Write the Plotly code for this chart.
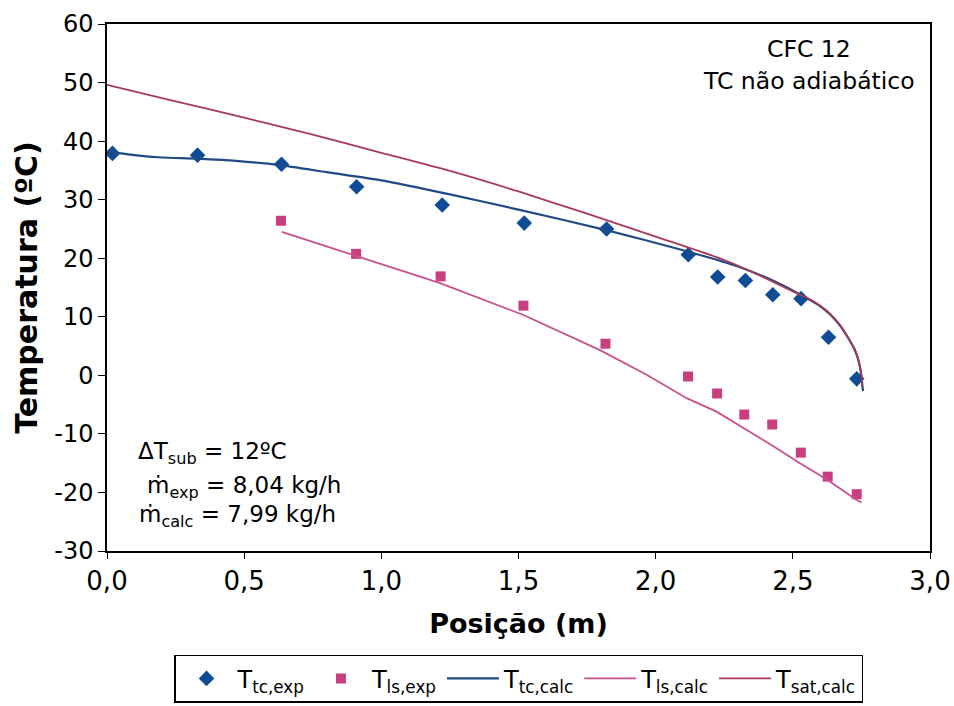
import plotly.graph_objects as go

# Experimental data
x_tc_exp = [0.02, 0.33, 0.636, 0.91, 1.222, 1.521, 1.821, 2.119, 2.226, 2.327, 2.427, 2.530, 2.630, 2.733]
y_tc_exp = [37.9, 37.6, 36.05, 32.2, 29.1, 26.0, 25.0, 20.6, 16.8, 16.2, 13.75, 13.1, 6.5, -0.6]

x_ls_exp = [0.634, 0.908, 1.216, 1.518, 1.817, 2.118, 2.224, 2.323, 2.425, 2.529, 2.627, 2.733]
y_ls_exp = [26.4, 20.75, 16.9, 11.9, 5.4, -0.2, -3.1, -6.7, -8.4, -13.2, -17.3, -20.3]

# Calculated curves
x_tc_calc = [0.0, 0.1, 0.2, 0.33, 0.5, 0.63, 0.8, 1.0, 1.25, 1.5, 1.82, 2.09, 2.3, 2.45, 2.55, 2.6, 2.636, 2.672, 2.70, 2.725, 2.74, 2.75, 2.754, 2.756]
y_tc_calc = [38.2, 37.6, 37.2, 37.0, 36.5, 35.9, 34.7, 33.3, 30.9, 28.3, 24.8, 21.5, 18.6, 15.7, 13.2, 11.8, 10.4, 8.5, 6.5, 4.4, 2.4, -0.1, -2.0, -2.7]

x_ls_calc = [0.637, 0.91, 1.214, 1.518, 1.797, 1.967, 2.113, 2.222, 2.332, 2.429, 2.526, 2.624, 2.733, 2.75]
y_ls_calc = [24.5, 20.3, 15.75, 10.3, 4.3, 0.1, -3.9, -6.2, -9.3, -12.1, -15.0, -17.8, -21.3, -21.7]

x_sat_calc = [0.0, 0.25, 0.5, 0.75, 1.0, 1.25, 1.5, 1.75, 2.0, 2.25, 2.4, 2.526, 2.55, 2.6, 2.636, 2.672, 2.70, 2.725, 2.74, 2.75, 2.753]
y_sat_calc = [49.6, 46.8, 44.0, 41.1, 38.0, 34.9, 31.4, 27.6, 23.7, 19.7, 16.6, 13.75, 13.3, 11.9, 10.5, 8.6, 6.6, 4.5, 2.5, 0.0, -1.9]

x_tickvals = [0.0, 0.5, 1.0, 1.5, 2.0, 2.5, 3.0]
x_ticktext = ["0,0", "0,5", "1,0", "1,5", "2,0", "2,5", "3,0"]
y_tickvals = [-30, -20, -10, 0, 10, 20, 30, 40, 50, 60]
y_ticktext = ["-30", "-20", "-10", "0", "10", "20", "30", "40", "50", "60"]

FONT = "DejaVu Sans"

fig = go.Figure()
fig.add_trace(go.Scatter(x=x_tc_exp, y=y_tc_exp, mode="markers", name="T<sub>tc,exp</sub>",
                         marker=dict(symbol="diamond", size=12, color="#0E4C96")))
fig.add_trace(go.Scatter(x=x_ls_exp, y=y_ls_exp, mode="markers", name="T<sub>ls,exp</sub>",
                         marker=dict(symbol="square", size=10, color="#C83E7E")))
fig.add_trace(go.Scatter(x=x_tc_calc, y=y_tc_calc, mode="lines", name="T<sub>tc,calc</sub>",
                         line=dict(color="#1F4A85", width=2.2, shape="spline", smoothing=0.6)))
fig.add_trace(go.Scatter(x=x_ls_calc, y=y_ls_calc, mode="lines", name="T<sub>ls,calc</sub>",
                         line=dict(color="#C9508E", width=1.8)))
fig.add_trace(go.Scatter(x=x_sat_calc, y=y_sat_calc, mode="lines", name="T<sub>sat,calc</sub>",
                         line=dict(color="#A83A55", width=1.8, shape="spline", smoothing=0.6)))

top_font = dict(family=FONT, size=23.5, color="black")
ann_font = dict(family=FONT, size=23, color="black")
annotations = [
    dict(x=2.56, y=55.8, text="CFC 12", showarrow=False, font=top_font, xanchor="center", yanchor="middle"),
    dict(x=2.56, y=50.3, text="TC não adiabático", showarrow=False, font=top_font, xanchor="center", yanchor="middle"),
    dict(x=0.105, y=-13.3, text="ΔT<sub>sub</sub> = 12ºC", showarrow=False, font=ann_font, xanchor="left", yanchor="middle"),
    dict(x=0.14, y=-19.0, text="ṁ<sub>exp</sub> = 8,04 kg/h", showarrow=False, font=ann_font, xanchor="left", yanchor="middle"),
    dict(x=0.11, y=-24.1, text="ṁ<sub>calc</sub> = 7,99 kg/h", showarrow=False, font=ann_font, xanchor="left", yanchor="middle"),
]

fig.update_layout(
    width=954, height=706,
    margin=dict(l=107, r=24, t=24, b=155, autoexpand=False),
    paper_bgcolor="white", plot_bgcolor="white",
    font=dict(family=FONT, color="black"),
    showlegend=True,
    legend=dict(orientation="h", x=0.5, xanchor="center", y=-0.197, yanchor="top",
                bordercolor="black", borderwidth=1.5, font=dict(family=FONT, size=24),
                itemwidth=52, tracegroupgap=0),
    annotations=annotations,
    xaxis=dict(range=[0, 3.0], tickvals=x_tickvals, ticktext=x_ticktext, automargin=False,
               showgrid=False, zeroline=False, showline=True, linecolor="black", linewidth=1.5,
               mirror=True, ticks="outside", ticklen=6, tickcolor="black",
               tickfont=dict(family=FONT, size=26),
               title=dict(text="<b>Posição (m)</b>", font=dict(family=FONT, size=27), standoff=19)),
    yaxis=dict(range=[-30, 60], tickvals=y_tickvals, ticktext=y_ticktext, automargin=False,
               showgrid=False, zeroline=False, showline=True, linecolor="black", linewidth=1.5,
               mirror=True, ticks="outside", ticklen=7, tickcolor="black",
               tickfont=dict(family=FONT, size=24),
               title=dict(text="<b>Temperatura (ºC)</b>", font=dict(family=FONT, size=30), standoff=8)),
)

fig.write_html("out.html")
